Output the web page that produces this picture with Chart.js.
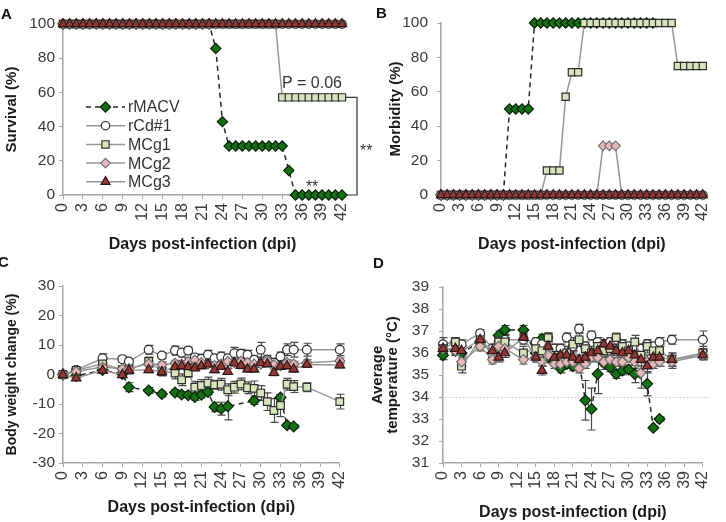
<!DOCTYPE html>
<html><head><meta charset="utf-8">
<script src="https://cdn.jsdelivr.net/npm/chart.js@4/dist/chart.umd.min.js"></script>
<style>
html,body{margin:0;padding:0;background:#fff}
body{width:726px;height:522px;overflow:hidden;position:relative;font-family:"Liberation Sans",Arial,sans-serif}
canvas{position:absolute}
.lbl{position:absolute;font-weight:bold;font-size:15px;color:#111;line-height:15px}
</style></head><body>
<canvas id="cB" width="363" height="258" style="left:363px;top:0"></canvas>
<canvas id="cA" width="380" height="258" style="left:0;top:0"></canvas>
<canvas id="cD" width="363" height="264" style="left:363px;top:258px"></canvas>
<canvas id="cC" width="363" height="264" style="left:0;top:258px"></canvas>
<div class="lbl" style="left:1px;top:6px">A</div>
<div class="lbl" style="left:376px;top:5px">B</div>
<div class="lbl" style="left:-2px;top:254px">C</div>
<div class="lbl" style="left:373px;top:255px">D</div>
<script>
// ---------- data ----------
const SERIES = ['rMACV','rCd#1','MCg1','MCg2','MCg3'];
const DAYS_AB = [0,1,2,3,4,5,6,7,8,9,10,11,12,13,14,15,16,17,18,19,20,21,22,23,24,25,26,27,28,29,30,31,32,33,34,35,36,37,38,39,40,41,42];
const X_TICKS = [0,3,6,9,12,15,18,21,24,27,30,33,36,39,42];

// Panel A: survival (%)
const surv_rMACV = [100,100,100,100,100,100,100,100,100,100,100,100,100,100,100,100,100,100,100,100,100,100,100,85.7,42.9,28.6,28.6,28.6,28.6,28.6,28.6,28.6,28.6,28.6,14.3,0,0,0,0,0,0,0,0];
const surv_rCd1  = [100,100,100,100,100,100,100,100,100,100,100,100,100,100,100,100,100,100,100,100,100,100,100,100,100,100,100,100,100,100,100,100,100,100,100,100,100,100,100,100,100,100,100];
const surv_MCg1  = [100,100,100,100,100,100,100,100,100,100,100,100,100,100,100,100,100,100,100,100,100,100,100,100,100,100,100,100,100,100,100,100,100,57.1,57.1,57.1,57.1,57.1,57.1,57.1,57.1,57.1,57.1];
const surv_MCg2  = [100,100,100,100,100,100,100,100,100,100,100,100,100,100,100,100,100,100,100,100,100,100,100,100,100,100,100,100,100,100,100,100,100,100,100,100,100,100,100,100,100,100,100];
const surv_MCg3  = [100,100,100,100,100,100,100,100,100,100,100,100,100,100,100,100,100,100,100,100,100,100,100,100,100,100,100,100,100,100,100,100,100,100,100,100,100,100,100,100,100,100,100];
const P_TEXT = 'P = 0.06';
const SIG_TEXT = '**';

// Panel B: morbidity (%)
const morb_rMACV = [0,0,0,0,0,0,0,0,0,0,0,50,50,50,50,100,100,100,100,100,100,100,100,100,100,100,100,100,100,100,100,100,100,100,100,null,null,null,null,null,null,null,null];
const morb_rCd1  = [0,0,0,0,0,0,0,0,0,0,0,0,0,0,0,0,0,0,0,0,0,0,0,0,0,0,0,0,0,0,0,0,0,0,0,0,0,0,0,0,0,0,0];
const morb_MCg1  = [0,0,0,0,0,0,0,0,0,0,0,0,0,0,0,0,0,14.3,14.3,14.3,57.1,71.4,71.4,100,100,100,100,100,100,100,100,100,100,100,100,100,100,100,75,75,75,75,75];
const morb_MCg2  = [0,0,0,0,0,0,0,0,0,0,0,0,0,0,0,0,0,0,0,0,0,0,0,0,0,0,28.6,28.6,28.6,0,0,0,0,0,0,0,0,0,0,0,0,0,0];
const morb_MCg3  = [0,0,0,0,0,0,0,0,0,0,0,0,0,0,0,0,0,0,0,0,0,0,0,0,0,0,0,0,0,0,0,0,0,0,0,0,0,0,0,0,0,0,0];

// Panel C: body weight change (%), mean and error
const DAYS_C = [0,2,6,9,10,13,15,17,18,19,20,21,22,23,24,25,26,27,28,29,30,31,32,33,34,35,37,42];
const bw_rMACV = [0,-0.5,1.5,0.2,-4.3,-5.4,-6.6,-6.1,-6.8,-7.0,-7.6,-6.9,-5.9,-11.0,-11.6,-10.8,null,null,null,-8.9,null,null,null,-7.8,-17.2,-17.6,null,null];
const bw_rCd1  = [0,1.5,5.5,5.2,4.4,8.4,6.4,8.1,7.4,8.1,5.8,5.3,6.7,5.5,6.1,5.5,7.2,7.0,6.7,5.0,8.4,5.0,4.0,6.1,8.4,8.4,8.4,8.4];
const bw_MCg1  = [0,1.4,3.6,1.6,1.5,4.4,1.0,0.5,-1.8,0.6,-4.3,-3.7,-2.9,-3.5,-3.3,-5.2,-4.3,-3.2,-4.5,-4.7,-6.3,-9.2,-12.2,-10.5,-3.3,-4.1,-4.3,-9.2];
const bw_MCg2  = [0,1.0,2.5,1.9,2.0,3.6,3.3,3.8,3.5,4.4,4.9,4.0,3.5,3.0,3.5,4.4,4.0,4.5,4.0,3.5,3.5,4.7,3.3,3.0,4.0,3.5,4.0,4.6];
const bw_MCg3  = [-0.1,-1.2,1.4,-0.1,1.4,1.6,0.9,2.6,2.9,2.6,2.2,2.9,3.5,1.6,2.7,1.0,3.9,3.0,1.8,1.8,3.9,3.6,0.6,2.7,2.9,1.8,3.4,3.2];
const bwErr_rMACV = [0.5,0.5,1,1,1.5,1,1,1,1,1,1.2,1,1,1.6,2.2,4.6,null,null,null,1.2,null,null,null,1,0.6,0.6,null,null];
const bwErr_rCd1  = [0.5,0.8,1.5,1,1,1.5,1,1.5,1.5,1.2,1,1.5,1.5,1.2,1.5,1.2,2,1.5,1.5,1.2,2.5,1.5,1.5,1.5,2,2.5,2.2,2];
const bwErr_MCg1  = [0.5,1,1.5,1,1,1.5,1.5,2,2,1.5,2,2,2,1.5,2,2,2,2,2,2.5,2.5,3,4,3.8,2,2,1.5,2.5];
const bwErr_MCg2  = [0.5,0.8,1,1,1,1,1,1,1,1,1,1,1,1,1,1,1,1,1,1,1,1,1,1,1,1,1,1];
const bwErr_MCg3  = [0.5,0.8,1,1,1,1,1,1,1,1,1,1,1,1,1,1,1,1,1,1,1,1,1,1,1,1,1,1];

// Panel D: average temperature (°C), mean and error
const DAYS_D = [0,2,3,6,8,9,10,13,15,16,17,18,19,20,21,22,23,24,25,26,27,28,29,30,31,32,33,34,35,37,42];
const tp_rMACV = [35.9,36.1,36.0,36.5,36.0,36.8,37.05,37.05,36.0,36.65,35.8,35.6,35.3,35.5,35.4,35.6,33.85,33.45,35.05,35.55,35.35,35.05,35.2,35.25,35.05,null,34.6,32.6,33.0,null,null];
const tp_rCd1  = [36.4,36.5,36.4,36.9,36.2,36.5,36.6,36.6,36.5,36.4,36.7,36.2,36.2,36.7,36.3,37.1,36.3,36.8,36.5,36.4,36.5,36.6,36.4,36.3,36.3,36.2,36.4,36.3,36.5,36.6,36.6];
const tp_MCg1  = [36.2,36.5,35.4,36.6,35.9,36.5,36.5,36.0,36.2,36.1,36.7,35.9,35.8,36.0,36.4,36.6,36.2,36.0,36.3,36.1,36.2,36.7,36.3,36.1,36.5,35.9,36.3,36.1,36.1,35.7,36.0];
const tp_MCg2  = [36.2,36.1,35.6,36.3,35.7,36.3,36.2,35.7,35.8,35.6,35.9,35.5,35.5,35.6,35.6,35.3,35.5,35.8,35.8,35.6,35.7,35.6,35.6,35.8,35.6,35.1,35.6,35.5,35.6,35.6,35.9];
const tp_MCg3  = [36.2,36.2,36.1,36.6,36.1,35.8,36.0,36.7,35.8,35.2,36.3,35.8,35.9,35.9,35.8,35.7,35.8,36.0,36.1,36.4,36.3,36.1,36.0,36.1,35.9,35.7,35.4,35.8,35.8,35.7,35.9];
const tpErr_rMACV = [0.2,0.2,0.2,0.2,0.2,0.2,0.2,0.2,0.2,0.2,0.2,0.2,0.2,0.2,0.2,0.2,0.9,0.95,0.9,0.3,0.2,0.2,0.2,0.2,0.4,null,0.55,0.1,0.1,null,null];
const tpErr_rCd1  = [0.3,0.2,0.2,0.15,0.2,0.2,0.2,0.2,0.2,0.2,0.2,0.2,0.2,0.2,0.2,0.2,0.2,0.2,0.2,0.2,0.2,0.2,0.2,0.2,0.2,0.2,0.2,0.2,0.2,0.2,0.4];
const tpErr_MCg1  = [0.3,0.2,0.3,0.2,0.3,0.2,0.2,0.3,0.3,0.3,0.2,0.3,0.3,0.3,0.3,0.3,0.3,0.3,0.3,0.3,0.3,0.2,0.3,0.3,0.3,0.3,0.3,0.3,0.3,0.3,0.3];
const tpErr_MCg2  = [0.2,0.2,0.2,0.2,0.2,0.2,0.2,0.2,0.2,0.2,0.2,0.2,0.2,0.2,0.2,0.2,0.2,0.2,0.2,0.2,0.2,0.2,0.2,0.2,0.3,0.7,0.3,0.2,0.2,0.3,0.2];
const tpErr_MCg3  = [0.2,0.2,0.2,0.2,0.2,0.2,0.2,0.2,0.2,0.2,0.2,0.2,0.2,0.2,0.2,0.2,0.2,0.2,0.2,0.2,0.2,0.2,0.2,0.2,0.2,0.3,0.3,0.2,0.2,0.3,0.2];
const TEMP_REF = 34;

// ---------- styles ----------
const F = '"Liberation Sans", Arial, sans-serif';
const AXIS = '#a6a6a6';
const STY = [
  {pointStyle:'rectRot', bg:'#137013', bd:'#0a1f0a', line:'#262626', dash:[5,4], r:5.4},
  {pointStyle:'circle',  bg:'#ffffff', bd:'#2e2e2e', line:'#969696', dash:[], r:4.4},
  {pointStyle:'rect',    bg:'#d7e4bc', bd:'#2e2e2e', line:'#969696', dash:[], r:5.4},
  {pointStyle:'rectRot', bg:'#e6b9b8', bd:'#6e6e6e', line:'#969696', dash:[], r:5.0},
  {pointStyle:'triangle',bg:'#953735', bd:'#2e1818', line:'#969696', dash:[], r:5.5},
];
const ORDER = [5,4,3,2,1];

function pts(days, vals, errs){
  const out=[];
  days.forEach((d,i)=>{ if(vals[i]!==null && vals[i]!==undefined) out.push({x:d,y:vals[i],e:errs?errs[i]:null}); });
  return out;
}
function makeDatasets(days, seriesVals, seriesErrs, scale){
  return seriesVals.map((v,i)=>({
    label: SERIES[i],
    data: pts(days, v, seriesErrs ? seriesErrs[i] : null),
    order: ORDER[i],
    clip: false,
    spanGaps: true,
    tension: 0,
    borderColor: STY[i].line,
    borderWidth: 1.5,
    borderDash: STY[i].dash,
    pointStyle: STY[i].pointStyle,
    pointRadius: STY[i].r*scale,
    pointBackgroundColor: STY[i].bg,
    pointBorderColor: STY[i].bd,
    pointBorderWidth: 1.2,
  }));
}

function makeOptions(c){
  return {
    responsive:false, animation:false, events:[],
    layout:{padding:c.pad},
    plugins:{legend:{display:false}, tooltip:{enabled:false}},
    scales:{
      x:{type:'linear', min:0, max:42,
        afterFit:a=>{a.height=c.xh;},
        afterBuildTicks:a=>{a.ticks = X_TICKS.map(v=>({value:v}));},
        ticks:{minRotation:90, maxRotation:90, autoSkip:false, font:{size:16,family:F}, color:'#3a3a3a', padding:4},
        grid:{display:true, drawOnChartArea:false, drawTicks:true, tickLength:4, color:AXIS},
        border:{color:AXIS, width:1.5},
        title:{display:true, text:'Days post-infection (dpi)', font:{size:16, weight:'bold', family:F}, color:'#1a1a1a', padding:0}
      },
      y:{min:c.ymin, max:c.ymax,
        afterFit:a=>{a.width=c.yw;},
        afterBuildTicks:a=>{a.ticks = c.yticks.map(v=>({value:v}));},
        ticks:{font:{size:15.5,family:F}, color:'#3a3a3a', padding:c.tpad},
        grid:{display:true, drawOnChartArea:false, drawTicks:true, tickLength:4, color:AXIS},
        border:{color:AXIS, width:1.5},
        title:{display:true, text:c.ytitle, font:{size:c.ytsize, weight:'bold', family:F, lineHeight:c.ylh||1.2}, color:'#1a1a1a', padding:0}
      }
    }
  };
}

// error bar plugin (uses the y scale of the chart)
const errPlugin = {
  id:'errbars',
  beforeDatasetsDraw(chart){
    const ctx=chart.ctx, ys=chart.scales.y;
    chart.data.datasets.forEach((ds,i)=>{
      const meta=chart.getDatasetMeta(i);
      ctx.save(); ctx.strokeStyle='#4a4a4a'; ctx.lineWidth=1.2;
      meta.data.forEach((el,j)=>{
        const raw=ds.data[j]; if(raw.e===null||raw.e===undefined) return;
        const x=Math.round(el.x)+0.5;
        const y1=ys.getPixelForValue(raw.y+raw.e), y2=ys.getPixelForValue(raw.y-raw.e);
        ctx.beginPath();
        ctx.moveTo(x,y1); ctx.lineTo(x,y2);
        ctx.moveTo(x-4,y1); ctx.lineTo(x+4,y1);
        ctx.moveTo(x-4,y2); ctx.lineTo(x+4,y2);
        ctx.stroke();
      });
      ctx.restore();
    });
  }
};

function drawMarker(ctx, style, x, y, r){
  ctx.beginPath();
  if(style==='circle'){ ctx.arc(x,y,r,0,Math.PI*2); }
  else if(style==='rect'){ const s=Math.SQRT1_2*r; ctx.rect(x-s,y-s,2*s,2*s); }
  else if(style==='rectRot'){ ctx.moveTo(x-r,y); ctx.lineTo(x,y-r); ctx.lineTo(x+r,y); ctx.lineTo(x,y+r); ctx.closePath(); }
  else if(style==='triangle'){ const a=2*Math.PI/3; ctx.moveTo(x,y-r); ctx.lineTo(x+Math.sin(a)*r,y-Math.cos(a)*r); ctx.lineTo(x+Math.sin(2*a)*r,y-Math.cos(2*a)*r); ctx.closePath(); }
  ctx.fill(); ctx.stroke();
}

const legendA = {
  id:'legendA',
  afterDatasetsDraw(chart){
    const ctx=chart.ctx, ca=chart.chartArea;
    const x0=ca.left+23, x1=ca.left+62, xm=(x0+x1)/2, tx=ca.left+65;
    chart.data.datasets.forEach((ds,i)=>{
      const y=ca.top+83+i*18.7;
      ctx.save();
      ctx.strokeStyle=ds.borderColor; ctx.lineWidth=1.5; ctx.setLineDash(ds.borderDash||[]);
      ctx.beginPath(); ctx.moveTo(x0,y); ctx.lineTo(x1,y); ctx.stroke();
      ctx.setLineDash([]);
      ctx.fillStyle=ds.pointBackgroundColor; ctx.strokeStyle=ds.pointBorderColor; ctx.lineWidth=1.2;
      drawMarker(ctx, ds.pointStyle, xm, y, ds.pointRadius);
      ctx.fillStyle='#333'; ctx.font='16px '+F; ctx.textBaseline='middle'; ctx.textAlign='left';
      ctx.fillText(ds.label, tx, y+1);
      ctx.restore();
    });
  }
};

const annA = {
  id:'annA',
  afterDatasetsDraw(chart){
    const ctx=chart.ctx, xs=chart.scales.x, ys=chart.scales.y;
    const xr=xs.getPixelForValue(42);
    const yHi=ys.getPixelForValue(surv_MCg1[42]), yLo=ys.getPixelForValue(surv_rMACV[42]);
    ctx.save();
    ctx.fillStyle='#333'; ctx.font='16px '+F; ctx.textAlign='right'; ctx.textBaseline='alphabetic';
    ctx.fillText(P_TEXT, xr, yHi-9);
    ctx.strokeStyle='#333'; ctx.lineWidth=1.2; ctx.beginPath();
    ctx.moveTo(xr+4,yHi); ctx.lineTo(xr+15,yHi); ctx.lineTo(xr+15,yLo); ctx.lineTo(xr+4,yLo); ctx.stroke();
    ctx.textAlign='left'; ctx.fillText(SIG_TEXT, xr+18, (yHi+yLo)/2+10);
    ctx.textAlign='center'; ctx.fillText(SIG_TEXT, xs.getPixelForValue(37.5), yLo-3);
    ctx.restore();
  }
};

const refD = {
  id:'refD',
  beforeDatasetsDraw(chart){
    const ctx=chart.ctx, ca=chart.chartArea, ys=chart.scales.y;
    const y=Math.round(ys.getPixelForValue(TEMP_REF))+0.5;
    ctx.save(); ctx.strokeStyle='#c4c4c4'; ctx.lineWidth=1; ctx.setLineDash([1.5,2]);
    ctx.beginPath(); ctx.moveTo(ca.left+2,y); ctx.lineTo(ca.right+6,y); ctx.stroke(); ctx.restore();
  }
};

// ---------- charts ----------
new Chart(document.getElementById('cA'), {
  type:'line',
  data:{datasets: makeDatasets(DAYS_AB,[surv_rMACV,surv_rCd1,surv_MCg1,surv_MCg2,surv_MCg3],null,0.95)},
  options: makeOptions({pad:{left:3,top:24,right:38,bottom:4}, xh:59, yw:60, ymin:0, ymax:100, yticks:[0,20,40,60,80,100], ytitle:'Survival (%)', ytsize:15, tpad:4}),
  plugins:[legendA, annA]
});
new Chart(document.getElementById('cB'), {
  type:'line',
  data:{datasets: makeDatasets(DAYS_AB,[morb_rMACV,morb_rCd1,morb_MCg1,morb_MCg2,morb_MCg3],null,0.95)},
  options: makeOptions({pad:{left:24,top:23,right:12,bottom:4}, xh:59, yw:54, ymin:0, ymax:100, yticks:[0,20,40,60,80,100], ytitle:'Morbidity (%)', ytsize:15, tpad:9}),
  plugins:[]
});
new Chart(document.getElementById('cC'), {
  type:'line',
  data:{datasets: makeDatasets(DAYS_C,[bw_rMACV,bw_rCd1,bw_MCg1,bw_MCg2,bw_MCg3],[bwErr_rMACV,bwErr_rCd1,bwErr_MCg1,bwErr_MCg2,bwErr_MCg3],1.0)},
  options: makeOptions({pad:{left:4,top:28,right:23,bottom:5}, xh:54, yw:59, ymin:-30, ymax:30, yticks:[-30,-20,-10,0,10,20,30], ytitle:'Body weight change (%)', ytsize:14, tpad:4}),
  plugins:[errPlugin]
});
new Chart(document.getElementById('cD'), {
  type:'line',
  data:{datasets: makeDatasets(DAYS_D,[tp_rMACV,tp_rCd1,tp_MCg1,tp_MCg2,tp_MCg3],[tpErr_rMACV,tpErr_rCd1,tpErr_MCg1,tpErr_MCg2,tpErr_MCg3],1.0)},
  options: makeOptions({pad:{left:8,top:29,right:14,bottom:0}, xh:59, yw:72, ymin:31, ymax:39, yticks:[31,32,33,34,35,36,37,38,39], ytitle:['Average','temperature (°C)'], ytsize:15, ylh:0.95, tpad:10}),
  plugins:[refD, errPlugin]
});
</script>
</body></html>
